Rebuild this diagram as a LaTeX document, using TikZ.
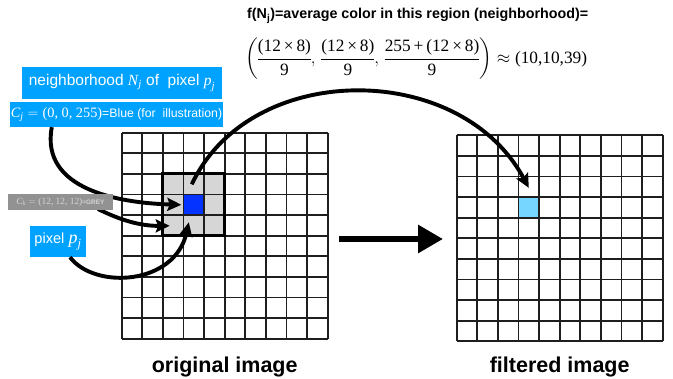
\documentclass[tikz,border=0pt]{standalone}
\usepackage{amsmath}
\usepackage{fontspec}
\setmainfont{Liberation Sans}
\newfontfamily\tms{Liberation Serif}
\usetikzlibrary{arrows.meta}
\definecolor{lblue}{HTML}{00A2FF}
\definecolor{cblue}{HTML}{0433FF}
\definecolor{sky}{HTML}{76D6FF}
\definecolor{ngray}{HTML}{D6D6D6}
\definecolor{boxgray}{HTML}{929292}
\definecolor{gridc}{HTML}{1E1E1E}
\newcommand{\tmi}[1]{\text{\tms\itshape #1}}
\newcommand{\tmu}[1]{\text{\tms #1}}
\begin{document}
\begin{tikzpicture}[x=1pt,y=-1pt,
  labelbox/.style={fill=lblue, text=white, inner sep=0pt},
  link/.style={line width=3.9pt, -{Stealth[length=14pt,width=13pt,inset=2.5pt]}},
  gridline/.style={line width=1.9pt, draw=gridc},
  cellbox/.style={minimum width=20.6pt, minimum height=20.6pt, inner sep=0pt, draw=none},
]
\useasboundingbox (0,0) rectangle (673,379);

% ---------- left (original) image ----------
\node[cellbox, fill=ngray, minimum width=61.8pt, minimum height=61.8pt] (nbh) at (193.8,204.8) {};
\node[cellbox, fill=cblue] (pj) at (193.8,204.8) {};
\foreach \i in {0,...,10} {
  \draw[gridline] (121.7+\i*20.6,132.7) -- (121.7+\i*20.6,338.7);
  \draw[gridline] (121.7,132.7+\i*20.6) -- (327.7,132.7+\i*20.6);
}
\draw[line width=3pt] (nbh.north west) rectangle (nbh.south east);

% ---------- right (filtered) image ----------
\node[cellbox, fill=sky] (fj) at (528.8,207.4) {};
\foreach \i in {0,...,10} {
  \draw[gridline] (456.7+\i*20.6,135.3) -- (456.7+\i*20.6,341.3);
  \draw[gridline] (456.7,135.3+\i*20.6) -- (662.7,135.3+\i*20.6);
}

% ---------- labels ----------
\node[labelbox, minimum width=200pt, minimum height=32pt] (nj) at (122,83)
  {\fontsize{15.5}{18}\selectfont neighborhood $\tmi{N}_{\tmi{j}}$ of\ \ pixel $\tmi{p}_{\tmi{j}}$};
\node[labelbox, minimum width=213pt, minimum height=25pt] (cj) at (116.5,114.5)
  {{\fontsize{14.3}{16}\selectfont$\tmi{C}_{\tmi{j}}=\tmu{(0, 0, 255)}$}{\fontsize{12.3}{14}\selectfont=Blue (for\ \ illustration)}};
\node[labelbox, minimum width=56pt, minimum height=31pt] (pix) at (58,241.5)
  {{\fontsize{14.6}{17}\selectfont pixel }{\fontsize{18}{20}\selectfont$\tmi{p}_{\tmi{j}}$}};

\node[anchor=west, inner sep=0pt] (ftext) at (247,16)
  {\fontsize{14.3}{17}\selectfont\bfseries f(N\textsubscript{j})=average color in this region (neighborhood)=};
\node[anchor=west, inner sep=0pt] (formula) at (245,59)
  {\fontsize{17.3}{20}\selectfont$\nulldelimiterspace=0pt\displaystyle\left(\frac{\tmu{(12\,×\,8)}}{\tmu{9}},\,\frac{\tmu{(12\,×\,8)}}{\tmu{9}},\,\frac{\tmu{255\,+\,(12\,×\,8)}}{\tmu{9}}\right)\approx\tmu{(10,10,39)}$};

\node[anchor=base, inner sep=0pt] (orig) at (224.7,373)
  {\fontsize{21.5}{24}\selectfont\bfseries original image};
\node[anchor=base, inner sep=0pt] (filt) at (559.7,373)
  {\fontsize{21.5}{24}\selectfont\bfseries filtered image};

% ---------- connectors ----------
\coordinate (gks) at (98,209);
\draw[link] (gks) .. controls (120,220) and (140,226) .. ([xshift=7pt,yshift=-21pt]nbh.west);
\draw[link] ([xshift=42pt]cj.south west) .. controls (40,190) and (120,203) .. ([xshift=-2pt]pj.west);
\node[fill=boxgray, text=ngray, minimum width=105pt, minimum height=16pt, inner sep=0pt] (gk) at (60.5,202)
  {{\fontsize{9.4}{11}\selectfont$\tmi{C}_{\tmi{k}}=\tmu{(12, 12, 12)}$}{\fontsize{6.5}{8}\selectfont\bfseries=GREY}};
\draw[link] ([xshift=12pt]pix.south) .. controls (95,290) and (175,285) .. ([xshift=-5pt,yshift=-7pt]pj.south);
\draw[link] ([xshift=-2pt,yshift=10pt]pj.north) .. controls (250,60) and (460,60) .. ([yshift=9pt]fj.north);

\coordinate (ba1) at (339,239);
\coordinate (ba2) at (443,239);
\draw[line width=6pt, -{Triangle[length=25pt,width=27pt]}] (ba1) -- (ba2);
\end{tikzpicture}
\end{document}
